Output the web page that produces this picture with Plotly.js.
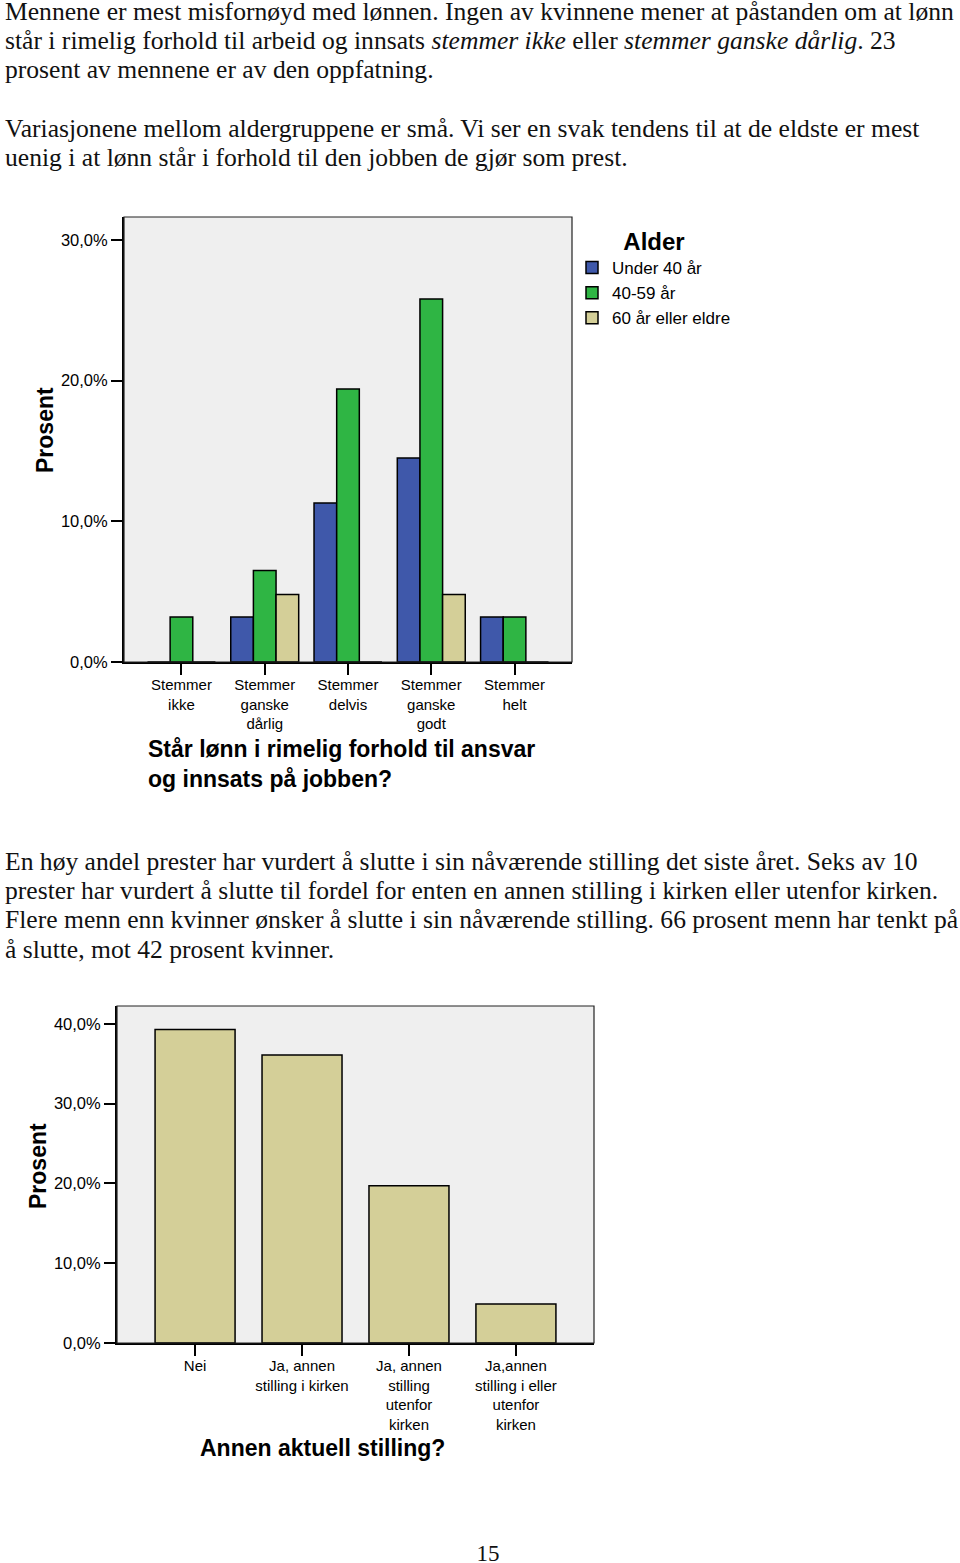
<!DOCTYPE html>
<html>
<head>
<meta charset="utf-8">
<script src="https://cdn.plot.ly/plotly-3.0.1.min.js"></script>
<style>
  html, body { margin:0; padding:0; background:#fff; }
  body { width:960px; height:1563px; position:relative; overflow:hidden; }
  .txt { position:absolute; left:5px; font-family:'Liberation Serif','Times New Roman',serif; font-size:25.6px; line-height:29.2px; color:#111; white-space:nowrap; }
  .chart { position:absolute; left:0; width:960px; }
  #pageno { position:absolute; left:0; width:976px; text-align:center; top:1541px; font-family:'Liberation Serif','Times New Roman',serif; font-size:23px; color:#111; }
</style>
</head>
<body>
<div class="txt" style="top:-3px">
Mennene er mest misfornøyd med lønnen. Ingen av kvinnene mener at påstanden om at lønn<br>
står i rimelig forhold til arbeid og innsats <i>stemmer ikke</i> eller <i>stemmer ganske dårlig</i>. 23<br>
prosent av mennene er av den oppfatning.<br>
<br>
Variasjonene mellom aldergruppene er små. Vi ser en svak tendens til at de eldste er mest<br>
uenig i at lønn står i forhold til den jobben de gjør som prest.
</div>
<div id="chart1" class="chart" style="top:200px;height:620px"></div>
<div class="txt" style="top:847px">
En høy andel prester har vurdert å slutte i sin nåværende stilling det siste året. Seks av 10<br>
prester har vurdert å slutte til fordel for enten en annen stilling i kirken eller utenfor kirken.<br>
Flere menn enn kvinner ønsker å slutte i sin nåværende stilling. 66 prosent menn har tenkt på<br>
å slutte, mot 42 prosent kvinner.
</div>
<div id="chart2" class="chart" style="top:990px;height:500px"></div>
<div id="pageno">15</div>
<script>
// ---- Data: chart 1 ----
const categories1 = ['Stemmer<br>ikke', 'Stemmer<br>ganske<br>dårlig', 'Stemmer<br>delvis', 'Stemmer<br>ganske<br>godt', 'Stemmer<br>helt'];
const seriesNames1 = ['Under 40 år', '40-59 år', '60 år eller eldre'];
const under40 = [0, 3.2, 11.3, 14.5, 3.2];
const age40to59 = [3.2, 6.5, 19.4, 25.8, 3.2];
const age60plus = [0, 4.8, 0, 4.8, 0];
const yTickVals1 = [0, 10, 20, 30];
const yTickText1 = ['0,0%', '10,0%', '20,0%', '30,0%'];
const xTitle1 = 'Står lønn i rimelig forhold til ansvar<br>og innsats på jobben?';
const legendTitle1 = 'Alder';

// ---- Data: chart 2 ----
const categories2 = ['Nei', 'Ja, annen<br>stilling i kirken', 'Ja, annen<br>stilling<br>utenfor<br>kirken', 'Ja,annen<br>stilling i eller<br>utenfor<br>kirken'];
const values2 = [39.3, 36.1, 19.7, 4.9];
const yTickVals2 = [0, 10, 20, 30, 40];
const yTickText2 = ['0,0%', '10,0%', '20,0%', '30,0%', '40,0%'];
const xTitle2 = 'Annen aktuell stilling?';
const yTitle = 'Prosent';

const FONT = 'Liberation Sans, Arial, sans-serif';
const colors1 = ['#3f58aa', '#2fb544', '#d4cf98'];
const barLine = {color:'#000', width:1.5};

const traces1 = [under40, age40to59, age60plus].map((vals, i) => ({
  type:'bar', name: seriesNames1[i], x: categories1, y: vals,
  marker:{color: colors1[i], line: barLine}, hoverinfo:'skip'
}));

const frame = {type:'rect', xref:'paper', yref:'paper', x0:0, x1:1, y0:0, y1:1, line:{color:'#222', width:1.2}, layer:'above'};

function yTitleAnn(xshift, yshift) {
  return {xref:'paper', yref:'paper', x:0, y:0.5, xshift:xshift, yshift:yshift, xanchor:'center', yanchor:'middle',
          textangle:-90, text:'<b>'+yTitle+'</b>', showarrow:false, font:{family:FONT, size:23, color:'#000'}};
}

const layout1 = {
  width:960, height:620,
  margin:{l:124, r:388, t:17, b:158},
  paper_bgcolor:'rgba(0,0,0,0)', plot_bgcolor:'#efefef',
  font:{family:FONT, color:'#000'},
  barmode:'group', bargap:0.184, bargroupgap:0,
  showlegend:true,
  legend:{x:1.0, xanchor:'left', y:0.996, yanchor:'top', font:{family:FONT, size:17, color:'#000'},
          title:{text:legendTitle1, side:'top center', font:{family:FONT, size:24, color:'#000', weight:'bold'}},
          bgcolor:'rgba(0,0,0,0)', tracegroupgap:0, itemclick:false},
  xaxis:{type:'category', range:[-0.69, 4.69], showgrid:false, zeroline:false,
         showline:true, linecolor:'#000', linewidth:2,
         ticks:'outside', ticklen:11, tickwidth:2, tickcolor:'#000', ticklabelstandoff:-3,
         tickfont:{family:FONT, size:15, color:'#000'}, fixedrange:true},
  yaxis:{range:[0, 31.63], showgrid:false, zeroline:false,
         showline:true, linecolor:'#000', linewidth:2,
         ticks:'outside', ticklen:11, tickwidth:2, tickcolor:'#000',
         tickvals:yTickVals1, ticktext:yTickText1,
         tickfont:{family:FONT, size:16.5, color:'#000'}, fixedrange:true},
  shapes:[frame],
  annotations:[
    {xref:'paper', yref:'paper', x:(146-124)/448, xanchor:'left', y:-(763.5-662)/445, yanchor:'middle',
     text:'<b>'+xTitle1+'</b>', align:'left', showarrow:false, font:{family:FONT, size:23, color:'#000'}},
    yTitleAnn(-79, 9.5)
  ]
};

const traces2 = [{
  type:'bar', name:'Prosent', x: categories2, y: values2,
  marker:{color:'#d4cf98', line: barLine}, hoverinfo:'skip'
}];

const layout2 = {
  width:960, height:500,
  margin:{l:117, r:366, t:16, b:147},
  paper_bgcolor:'rgba(0,0,0,0)', plot_bgcolor:'#efefef',
  font:{family:FONT, color:'#000'},
  bargap:0.252, showlegend:false,
  xaxis:{type:'category', range:[-0.73, 3.73], showgrid:false, zeroline:false,
         showline:true, linecolor:'#000', linewidth:2,
         ticks:'outside', ticklen:11, tickwidth:2, tickcolor:'#000', ticklabelstandoff:-3,
         tickfont:{family:FONT, size:15, color:'#000'}, fixedrange:true},
  yaxis:{range:[0, 42.25], showgrid:false, zeroline:false,
         showline:true, linecolor:'#000', linewidth:2,
         ticks:'outside', ticklen:11, tickwidth:2, tickcolor:'#000',
         tickvals:yTickVals2, ticktext:yTickText2,
         tickfont:{family:FONT, size:16.5, color:'#000'}, fixedrange:true},
  shapes:[frame],
  annotations:[
    {xref:'paper', yref:'paper', x:(198-117)/477, xanchor:'left', y:-(1448-1343)/337, yanchor:'middle',
     text:'<b>'+xTitle2+'</b>', align:'left', showarrow:false, font:{family:FONT, size:23, color:'#000'}},
    yTitleAnn(-79, 8.5)
  ]
};

const cfg = {displayModeBar:false, staticPlot:true};
Plotly.newPlot('chart1', traces1, layout1, cfg);
Plotly.newPlot('chart2', traces2, layout2, cfg);
</script>
</body>
</html>
